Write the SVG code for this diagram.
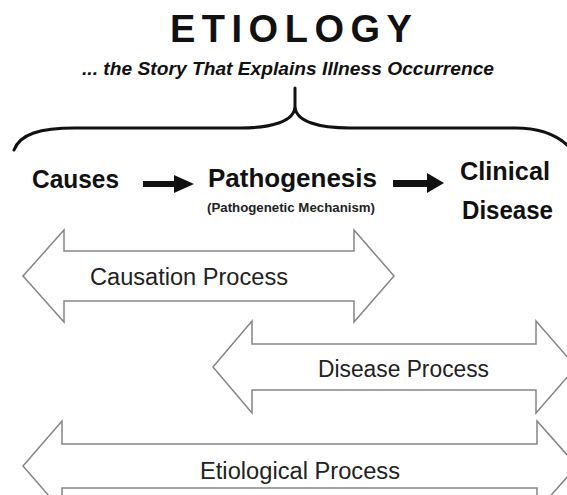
<svg xmlns="http://www.w3.org/2000/svg" width="567" height="495" viewBox="0 0 567 495">
<style>
text { font-family: "Liberation Sans", Arial, sans-serif; fill: #111; }
.title { font-weight: bold; font-size: 38px; letter-spacing: 6.5px; }
.sub { font-weight: bold; font-style: italic; font-size: 19px; }
.node { font-weight: bold; font-size: 26px; }
.small { font-weight: bold; font-size: 13px; fill: #222; }
.proc { font-size: 23.5px; fill: #222; }
.dbl { fill: #fff; stroke: #858585; stroke-width: 1.5; stroke-linejoin: miter; }
.brace { fill: none; stroke: #111; stroke-width: 3; stroke-linecap: round; }
.blk { fill: #111; }
</style>
<rect width="567" height="495" fill="#fff"/>
<g id="title">
<text class="title" x="170" y="42">ETIOLOGY</text>
<text class="sub" x="82" y="75" textLength="412" lengthAdjust="spacingAndGlyphs">... the Story That Explains Illness Occurrence</text>
</g>
<g id="brace">
<path class="brace" d="M14,150 C20,134 40,128 75,128 L240,128 C270,128 295,122 295,106 L295,88 M295,106 C295,122 320,128 350,128 L515,128 C540,128 560,136 572,150"/>
</g>
<g id="causes"><text class="node" x="32" y="188" textLength="87" lengthAdjust="spacingAndGlyphs">Causes</text></g>
<g id="pathogenesis">
<text class="node" x="208" y="187" textLength="169" lengthAdjust="spacingAndGlyphs">Pathogenesis</text>
<text class="small" x="207" y="212" textLength="168" lengthAdjust="spacingAndGlyphs">(Pathogenetic Mechanism)</text>
</g>
<g id="clinical-disease">
<text class="node" x="460" y="180" textLength="90" lengthAdjust="spacingAndGlyphs">Clinical</text>
<text class="node" x="462" y="219" textLength="91" lengthAdjust="spacingAndGlyphs">Disease</text>
</g>
<g id="connectors">
<path class="blk" d="M143,181 L174,181 L174,175 L194,184 L174,193 L174,187 L143,187 Z"/>
<path class="blk" d="M393,180 L427,180 L427,173 L444,183 L427,193 L427,187 L393,187 Z"/>
</g>
<g id="causation-process">
<polygon class="dbl" points="23,276 64,230 64,251 354,251 354,230 394,276 354,322 354,301 64,301 64,322"/>
<text class="proc" x="90" y="285" textLength="198" lengthAdjust="spacingAndGlyphs">Causation Process</text>
</g>
<g id="disease-process">
<polygon class="dbl" points="213,367 252,321 252,344 536,344 536,321 576,367 536,413 536,390 252,390 252,413"/>
<text class="proc" x="318" y="377" textLength="171" lengthAdjust="spacingAndGlyphs">Disease Process</text>
</g>
<g id="etiological-process">
<polygon class="dbl" points="23,466 62,421 62,444 537,444 537,421 577,466 537,511 537,488 62,488 62,511"/>
<text class="proc" x="200" y="479" textLength="200" lengthAdjust="spacingAndGlyphs">Etiological Process</text>
</g>
</svg>
